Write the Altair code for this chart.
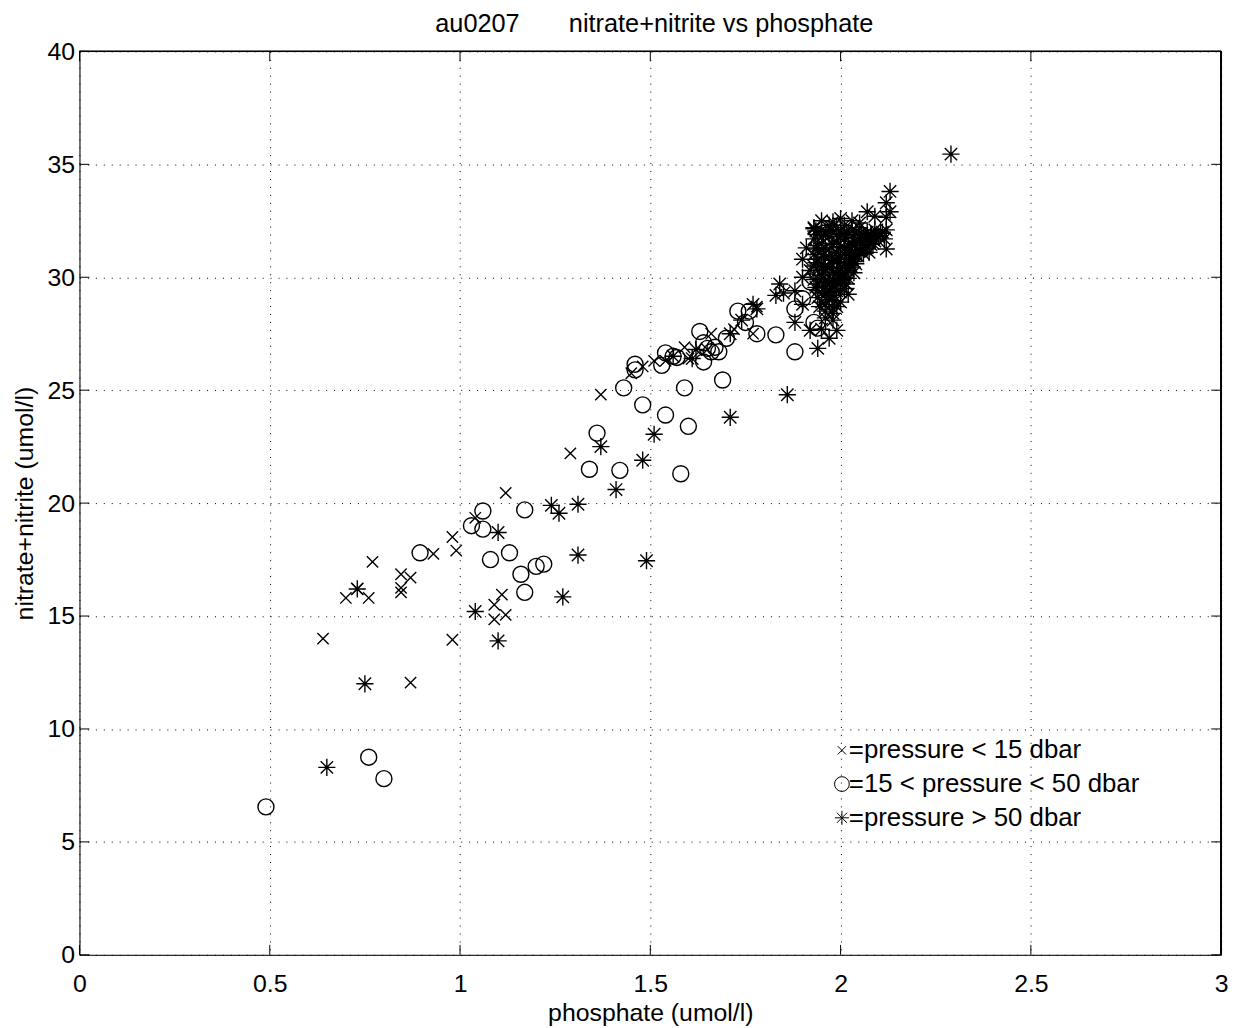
import altair as alt
import pandas as pd

# ---------------- data ----------------
cross_pts = [(0.64, 14.0), (0.70, 15.8), (0.73, 16.2), (0.76, 15.8), (0.77, 17.4),
             (0.845, 16.85), (0.87, 16.7), (0.845, 16.25), (0.845, 16.05), (0.87, 12.05),
             (0.93, 17.75), (0.98, 18.5), (0.99, 17.9), (0.98, 13.95), (1.04, 19.35),
             (1.12, 20.45), (1.09, 15.5), (1.11, 15.95), (1.09, 14.85), (1.12, 15.05),
             (1.29, 22.2), (1.37, 24.8), (1.45, 25.75), (1.48, 26.05), (1.51, 26.3),
             (1.54, 26.3), (1.59, 26.9), (1.60, 26.4), (1.65, 26.8), (1.66, 27.5),
             (1.72, 27.7), (1.77, 27.5), (1.78, 28.7)]

circle_pts = [(0.49, 6.55), (0.76, 8.75), (0.80, 7.8), (0.895, 17.8), (1.03, 19.0),
              (1.06, 19.65), (1.06, 18.85), (1.08, 17.5), (1.13, 17.8), (1.16, 16.85),
              (1.17, 19.7), (1.17, 16.05), (1.20, 17.2), (1.22, 17.3), (1.34, 21.5),
              (1.36, 23.1), (1.42, 21.45), (1.43, 25.1), (1.46, 26.15), (1.46, 25.9),
              (1.48, 24.35), (1.54, 23.9), (1.58, 21.3), (1.59, 25.1), (1.60, 23.4),
              (1.69, 25.45), (1.53, 26.1), (1.54, 26.65), (1.56, 26.5), (1.57, 26.45),
              (1.63, 27.6), (1.64, 27.1), (1.65, 26.85), (1.66, 26.7), (1.67, 26.9),
              (1.68, 26.7), (1.64, 26.25), (1.70, 27.3), (1.73, 28.5), (1.75, 28.0),
              (1.76, 28.5), (1.78, 27.5), (1.83, 27.45), (1.88, 26.7), (1.88, 28.6),
              (1.90, 29.05), (1.93, 28.0), (1.94, 27.75), (1.96, 29.6), (1.92, 29.8),
              (1.98, 30.3)]

star_pts = [(0.65, 8.3), (0.75, 12.0), (0.73, 16.2), (1.04, 15.2), (1.10, 18.7),
            (1.10, 13.9), (1.24, 19.9), (1.26, 19.55), (1.31, 19.95), (1.31, 17.7),
            (1.27, 15.85), (1.37, 22.5), (1.41, 20.6), (1.48, 21.9), (1.49, 17.45),
            (1.51, 23.05), (1.71, 23.8), (1.86, 24.8),
            (1.56, 26.5), (1.61, 26.4), (1.62, 26.8), (1.74, 28.1), (1.71, 27.5),
            (1.77, 28.8), (1.78, 28.6), (1.83, 29.2), (1.84, 29.7), (1.85, 29.3),
            (1.88, 29.4), (1.90, 30.8), (1.90, 30.0), (1.90, 28.8), (1.88, 28.0),
            (1.92, 27.65), (1.95, 27.7), (1.96, 28.2), (1.97, 27.3), (1.94, 26.85),
            (1.98, 28.4), (1.99, 27.65), (2.00, 29.35), (2.02, 29.25), (2.29, 35.45),
            (2.13, 33.8), (2.12, 33.3), (2.13, 32.9), (2.07, 32.9), (2.09, 32.7),
            (2.12, 32.65), (1.93, 32.15), (2.12, 32.1), (2.12, 31.25), (2.03, 32.5),
            # dense cluster
            (1.93, 32.2), (1.95, 32.1), (1.97, 32.3), (1.99, 32.2), (2.01, 32.3),
            (2.03, 32.1), (2.05, 32.2), (2.07, 32.0), (2.09, 32.1), (2.11, 32.0),
            (1.95, 32.5), (2.00, 32.6), (2.05, 32.4), (1.98, 32.45),
            (1.93, 31.7), (1.95, 31.5), (1.97, 31.8), (1.99, 31.6), (2.01, 31.7),
            (2.03, 31.5), (2.05, 31.6), (2.07, 31.7), (2.09, 31.6),
            (1.93, 31.0), (1.95, 31.2), (1.97, 30.9), (1.99, 31.1), (2.01, 31.3),
            (2.03, 31.0), (2.05, 31.2), (2.07, 31.3),
            (1.93, 30.5), (1.95, 30.6), (1.97, 30.4), (1.99, 30.7), (2.01, 30.5),
            (2.03, 30.8), (2.04, 30.6),
            (1.93, 29.9), (1.95, 30.1), (1.97, 29.8), (1.99, 30.2), (2.01, 30.0),
            (1.94, 29.4), (1.96, 29.6), (1.98, 29.2), (2.00, 29.7),
            (1.95, 28.9), (1.97, 29.0), (1.99, 28.7), (1.96, 28.5), (1.98, 28.1),
            (1.94, 29.1), (1.92, 30.3), (1.91, 31.3), (2.08, 31.9), (2.10, 31.8),
            (1.94, 31.9), (1.96, 32.0), (1.98, 31.95), (2.00, 32.05), (2.02, 31.9),
            (2.04, 32.0), (2.06, 31.85), (2.08, 31.9), (2.10, 31.8),
            (1.94, 31.4), (1.96, 31.3), (1.98, 31.45), (2.00, 31.35), (2.02, 31.4),
            (2.04, 31.3), (2.06, 31.5), (2.08, 31.45),
            (1.94, 30.8), (1.96, 30.9), (1.98, 30.75), (2.00, 30.95), (2.02, 30.8),
            (2.04, 31.0), (2.06, 31.05),
            (1.94, 30.3), (1.96, 30.35), (1.98, 30.2), (2.00, 30.4), (2.02, 30.3),
            (2.03, 30.45),
            (1.94, 29.7), (1.96, 29.8), (1.98, 29.85), (2.00, 29.9), (2.02, 29.95),
            (1.95, 29.3), (1.97, 29.1), (1.99, 29.4), (2.01, 29.5),
            (1.96, 28.8), (1.98, 28.6), (2.00, 28.9),
            (1.935, 32.05), (1.955, 31.85), (1.975, 32.1), (1.995, 31.8), (2.015, 32.0),
            (2.035, 31.75), (2.055, 31.9), (2.075, 31.6), (2.095, 31.85), (2.115, 31.7),
            (1.935, 31.25), (1.955, 31.0), (1.975, 31.3), (1.995, 30.85), (2.015, 31.1),
            (2.035, 30.7), (2.055, 31.4), (2.075, 31.1),
            (1.935, 30.65), (1.955, 30.45), (1.975, 30.6), (1.995, 30.3), (2.015, 30.65),
            (2.035, 30.2),
            (1.935, 29.55), (1.955, 29.95), (1.975, 29.5), (1.995, 29.95), (2.015, 29.7),
            (1.945, 28.7), (1.965, 29.35), (1.985, 28.95),
            (2.045, 31.55), (2.065, 31.75), (2.085, 31.5), (2.105, 31.95), (2.025, 31.2),
            (2.045, 30.95), (2.065, 31.25), (2.025, 30.55), (2.005, 30.1), (1.985, 29.65)]

x_ticks = [0, 0.5, 1, 1.5, 2, 2.5, 3]
y_ticks = [0, 5, 10, 15, 20, 25, 30, 35, 40]

legend_labels = ["=pressure < 15 dbar", "=15 < pressure < 50 dbar", "=pressure > 50 dbar"]

title_text = "au0207\u00a0\u00a0\u00a0\u00a0\u00a0\u00a0\u00a0nitrate+nitrite vs phosphate"
x_title = "phosphate (umol/l)"
y_title = "nitrate+nitrite (umol/l)"

# ---------------- build ----------------
W, H = 1150, 910
FONT = "Liberation Sans"
FS = 25
CROSS = "M-1,-1L1,1M-1,1L1,-1"
STAR = "M-1,0L1,0M0,-1L0,1M-0.72,-0.72L0.72,0.72M-0.72,0.72L0.72,-0.72"
SW = 1.4


def frame(pts, g):
    return pd.DataFrame({"x": [p[0] for p in pts], "y": [p[1] for p in pts], "g": g})


df_cross = frame(cross_pts, "cross")
df_circle = frame(circle_pts, "circle")
df_star = frame(star_pts, "star")

xs = alt.Scale(domain=[0, 3], nice=False, zero=False)
ys = alt.Scale(domain=[0, 40], nice=False, zero=False)

common = dict(grid=True, gridDash=[1, 7], gridColor="black", gridOpacity=1, gridWidth=1,
              ticks=False, domain=True, domainColor="black", domainWidth=1,
              labelFont=FONT, labelFontSize=FS, labelColor="black",
              labelFlush=False, labelOverlap=False, labelBound=False,
              titleFont=FONT, titleFontSize=FS, titleColor="black",
              titleFontWeight="normal", format="~g")
x_axis = alt.Axis(values=x_ticks, title=x_title, labelPadding=17, titlePadding=4,
                  **common)
y_axis = alt.Axis(values=y_ticks, title=y_title, labelPadding=5, titlePadding=10,
                  **common)


def X(field):
    return alt.X(field, scale=xs, axis=x_axis)


def Y(field):
    return alt.Y(field, scale=ys, axis=y_axis)


def pts_layer(d, shape, size):
    return alt.Chart(d).mark_point(shape=shape, size=size, filled=False, stroke="black",
                                   strokeWidth=SW, opacity=1).encode(
        x=X("x:Q"), y=Y("y:Q"))


crosses = pts_layer(df_cross, CROSS, 130)
circles = pts_layer(df_circle, "circle", 260)
stars = pts_layer(df_star, STAR, 300)

xt = pd.DataFrame({"v": x_ticks})
yt = pd.DataFrame({"v": y_ticks})
TL = 10
tick_bottom = alt.Chart(xt).mark_rule(color="black", strokeWidth=1).encode(
    x=X("v:Q"), y=alt.value(H), y2=alt.value(H - TL))
tick_top = alt.Chart(xt).mark_rule(color="black", strokeWidth=1).encode(
    x=X("v:Q"), y=alt.value(0), y2=alt.value(TL))
tick_left = alt.Chart(yt).mark_rule(color="black", strokeWidth=1).encode(
    y=Y("v:Q"), x=alt.value(0), x2=alt.value(TL))
tick_right = alt.Chart(yt).mark_rule(color="black", strokeWidth=1).encode(
    y=Y("v:Q"), x=alt.value(W), x2=alt.value(W - TL))
border_top = alt.Chart(xt).mark_rule(color="black", strokeWidth=1).encode(
    x=alt.value(0), x2=alt.value(W), y=alt.value(0))
border_right = alt.Chart(yt).mark_rule(color="black", strokeWidth=1).encode(
    x=alt.value(W), y=alt.value(0), y2=alt.value(H))

# title drawn as a text mark above the axes box
title_layer = alt.Chart(pd.DataFrame({"t": [title_text]})).mark_text(
    align="center", baseline="middle", font=FONT, fontSize=25.5, color="black"
).encode(text="t:N", x=alt.value(W / 2 + 4), y=alt.value(-28))

# legend (inside the axes, lower right)
leg_x = 768
leg_y = [704, 738, 772]
leg_shapes = [(CROSS, 70), ("circle", 220), (STAR, 200)]
legend_layers = []
for lab, yy, (shp, sz) in zip(legend_labels, leg_y, leg_shapes):
    ld = pd.DataFrame({"t": [lab]})
    legend_layers.append(
        alt.Chart(ld).mark_point(shape=shp, size=sz, filled=False, stroke="black",
                                 strokeWidth=1, opacity=1).encode(
            x=alt.value(leg_x), y=alt.value(yy)))
    legend_layers.append(
        alt.Chart(ld).mark_text(align="left", baseline="middle", font=FONT, fontSize=26,
                                color="black").encode(
            text="t:N", x=alt.value(leg_x + 7), y=alt.value(yy)))

chart = alt.layer(
    crosses, circles, stars, tick_bottom, tick_top, tick_left, tick_right,
    border_top, border_right, title_layer, *legend_layers
).properties(
    width=W, height=H,
    autosize=alt.AutoSizeParams(type="none"),
    padding={"left": 72, "top": 40, "right": 20, "bottom": 70},
).configure_view(
    stroke=None
).configure(background="white")

chart.save("out.html", embed_options={"renderer": "svg", "actions": False})
